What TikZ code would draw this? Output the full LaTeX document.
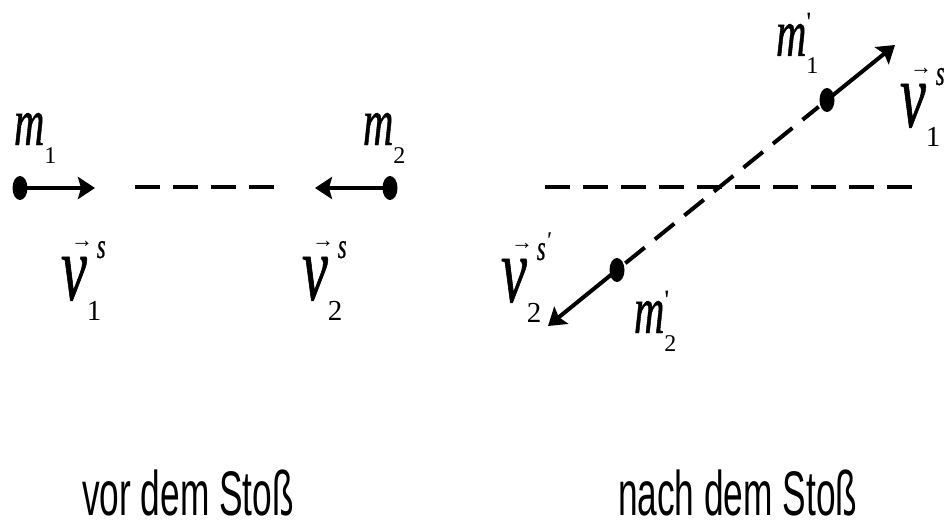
\documentclass[tikz,border=0pt]{standalone}
\usepackage{fontspec}
\newfontfamily\lblfont[FakeStretch=0.62, FakeBold=0.6]{Liberation Serif}
\newfontfamily\numfont{Liberation Serif}
\newfontfamily\capfont[FakeStretch=0.56]{Liberation Sans}
\newfontfamily\arrfont{Liberation Sans}
\usetikzlibrary{arrows.meta, shapes.geometric}
\tikzset{
  every picture/.style={line width=4pt},
  dot/.style={ellipse, fill=black, inner sep=0pt, minimum width=15pt, minimum height=24pt},
  vec/.style={-{Stealth[length=17pt, width=22pt, inset=3pt]}},
  track/.style={dash pattern=on 25pt off 13pt},
  lbl/.style={font=\lblfont, anchor=base west, inner sep=0pt},
  caption/.style={font=\capfont\fontsize{63}{63}\selectfont, anchor=base west, inner sep=0pt, text depth=0pt},
}

\begin{document}
\begin{tikzpicture}[x=1pt, y=-1pt]
  \newcommand{\mlabel}[2]{{\fontsize{68}{68}\selectfont\itshape m}%
    \rlap{\raisebox{24pt}{\numfont\fontsize{28}{28}\selectfont #2}}%
    \raisebox{-18pt}{\numfont\fontsize{24}{24}\selectfont #1}}
  \newcommand{\vlabel}[2]{\rlap{\hspace{10pt}\raisebox{53pt}{\arrfont\bfseries\fontsize{22}{22}\selectfont →}}%
    {\fontsize{94}{94}\selectfont\itshape v}%
    \rlap{\hspace{10pt}\raisebox{42pt}{\fontsize{36}{36}\selectfont\itshape #2}}%
    \raisebox{-20pt}{\numfont\fontsize{29}{29}\selectfont #1}}
  \useasboundingbox (0,0) rectangle (946,527);
  % vor dem Stoss
  \node[dot] (a1) at (20,188) {};
  \node[dot] (a2) at (390,188) {};
  \coordinate (ta1) at (95,188);
  \coordinate (ta2) at (315,188);
  \coordinate (ea1) at (135,187);
  \coordinate (ea2) at (275,187);
  \draw[vec] (a1.center) -- (ta1);
  \draw[vec] (a2.center) -- (ta2);
  \draw[track] (ea1) -- (ea2);
  \node[lbl] (la1) at (12,145) {\mlabel{1}{}};
  \node[lbl] (la2) at (361,145) {\mlabel{2}{}};
  \node[lbl] (va1) at (59,300) {\vlabel{1}{s}};
  \node[lbl] (va2) at (300,300) {\vlabel{2}{s}};
  % nach dem Stoss
  \coordinate (eb1) at (545,187);
  \coordinate (eb2) at (912,187);
  \draw[track] (eb1) -- (eb2);
  \node[dot] (b1) at (827,100) {};
  \node[dot] (b2) at (617,270) {};
  \coordinate (tb1) at (895,45);
  \coordinate (tb2) at (548,326);
  \draw[track] (b2) -- (b1);
  \draw[vec] (b1.center) -- (tb1);
  \draw[vec] (b2.center) -- (tb2);
  \node[lbl] (lb1) at (774,56) {\mlabel{1}{'}};
  \node[lbl] (lb2) at (632,333) {\mlabel{2}{'}};
  \node[lbl] (vb1) at (898,127) {\vlabel{1}{s}};
  \node[lbl] (vb2) at (499,302) {\vlabel{2}{s\raisebox{12pt}{\numfont\fontsize{24}{24}\selectfont '}}};
  % captions
  \node[caption] (c1) at (80,515) {vor dem Stoß};
  \node[caption] (c2) at (616,515) {nach dem Stoß};
\end{tikzpicture}
\end{document}
